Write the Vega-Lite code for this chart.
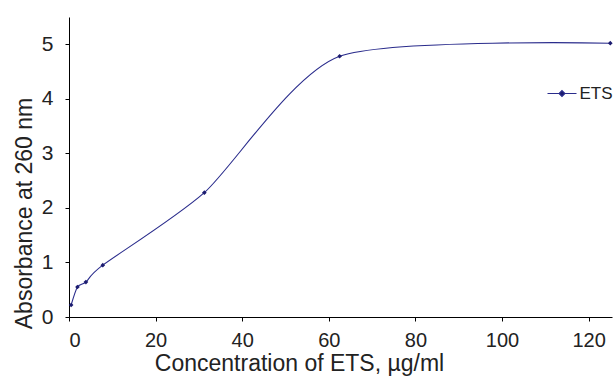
{
  "$schema": "https://vega.github.io/schema/vega-lite/v6.json",
  "width": 543,
  "height": 300,
  "autosize": {"type": "none"},
  "padding": {"left": 69, "top": 17, "right": 3, "bottom": 59},
  "background": "white",
  "config": {
    "view": {"stroke": null},
    "font": "Liberation Sans",
    "axis": {
      "grid": false,
      "domainColor": "#000000",
      "tickColor": "#000000",
      "labelColor": "#222222",
      "titleColor": "#222222",
      "labelFont": "Liberation Sans",
      "titleFont": "Liberation Sans",
      "titleFontSize": 23,
      "titleFontWeight": "normal",
      "tickSize": 4
    }
  },
  "data": {
    "values": [
      {"conc": 0.49, "abs": 0.22, "series": "ETS"},
      {"conc": 1.95, "abs": 0.55, "series": "ETS"},
      {"conc": 3.9, "abs": 0.64, "series": "ETS"},
      {"conc": 7.8, "abs": 0.95, "series": "ETS"},
      {"conc": 31.25, "abs": 2.28, "series": "ETS"},
      {"conc": 62.5, "abs": 4.78, "series": "ETS"},
      {"conc": 125, "abs": 5.02, "series": "ETS"}
    ]
  },
  "encoding": {
    "x": {
      "field": "conc",
      "type": "quantitative",
      "scale": {"domain": [0, 125.4], "nice": false, "zero": false},
      "axis": {
        "values": [0, 20, 40, 60, 80, 100, 120],
        "title": "Concentration of ETS, µg/ml",
        "labelFontSize": 20,
        "labelPadding": 9,
        "titleX": 230,
        "titleY": 53,
        "titleAlign": "center",
        "titleBaseline": "alphabetic"
      }
    },
    "y": {
      "field": "abs",
      "type": "quantitative",
      "scale": {"domain": [0, 5.5], "nice": false},
      "axis": {
        "values": [0, 1, 2, 3, 4, 5],
        "title": "Absorbance at 260 nm",
        "labelFontSize": 21,
        "labelPadding": 12,
        "titleX": -38,
        "titleY": 196,
        "titleAlign": "center",
        "titleBaseline": "alphabetic"
      }
    }
  },
  "layer": [
    {
      "mark": {"type": "line", "interpolate": "cardinal", "tension": 0.3, "color": "#34379a", "strokeWidth": 1.1},
      "encoding": {
        "color": {
          "field": "series",
          "type": "nominal",
          "scale": {"range": ["#2a2c8c"]},
          "legend": {
            "orient": "none",
            "legendX": 477.5,
            "legendY": 61,
            "padding": 0,
            "title": null,
            "symbolType": "M-1,0L-0.2,0M0.2,0L1,0M0,-0.2L0.2,0L0,0.2L-0.2,0Z",
            "symbolSize": 841,
            "symbolStrokeWidth": 1.2,
            "symbolFillColor": "#1c1c70",
            "symbolStrokeColor": "#34379a",
            "labelFontSize": 17,
            "labelFont": "Liberation Sans",
            "labelColor": "#222222",
            "labelOffset": 2
          }
        }
      }
    },
    {
      "mark": {"type": "point", "shape": "diamond", "filled": true, "size": 22, "color": "#1c1c70", "opacity": 1},
      "encoding": {}
    }
  ]
}
